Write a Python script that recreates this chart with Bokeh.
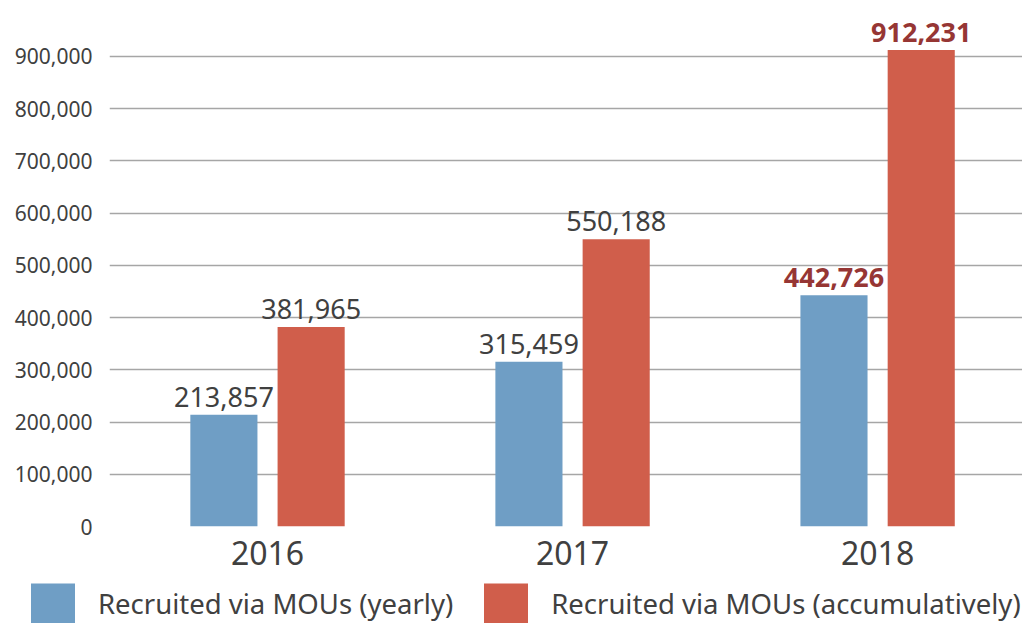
from bokeh.plotting import figure
from bokeh.models import (ColumnDataSource, FixedTicker, NumeralTickFormatter,
                          Range1d, Legend, LegendItem)
from bokeh.transform import dodge
from bokeh.core.properties import value
from bokeh.embed import file_html
from bokeh.resources import INLINE

years = ["2016", "2017", "2018"]
yearly = [213857, 315459, 442726]
accum = [381965, 550188, 912231]
series_names = ["Recruited via MOUs (yearly)", "Recruited via MOUs (accumulatively)"]
label_colors_yearly = ["#404040", "#404040", "#963634"]
label_colors_accum = ["#404040", "#404040", "#963634"]
label_styles = ["normal", "normal", "bold"]

BLUE = "#6f9ec5"
RED = "#d05e4b"
FONT = "Noto Sans"

idx = list(range(len(years)))
src = ColumnDataSource(dict(
    x=idx,
    yearly=yearly,
    accum=accum,
    yl=[f"{v:,}" for v in yearly],
    al=[f"{v:,}" for v in accum],
    yc=label_colors_yearly,
    ac=label_colors_accum,
    st=label_styles,
))

p = figure(width=1022, height=575, output_backend="svg", toolbar_location=None,
           x_range=Range1d(-0.518, 2.475), y_range=Range1d(0, 1007200),
           min_border_left=109, min_border_right=0, min_border_top=0,
           min_border_bottom=49)
p.outline_line_color = None
p.background_fill_color = "white"
p.border_fill_color = "white"

off = 0.143
w = 0.22
p.vbar(x=dodge("x", -off, range=p.x_range), top="yearly", width=w, source=src,
       fill_color=BLUE, line_color=None)
p.vbar(x=dodge("x", off, range=p.x_range), top="accum", width=w, source=src,
       fill_color=RED, line_color=None)

p.text(x=dodge("x", -off, range=p.x_range), y="yearly", text="yl", source=src,
       text_align="center", text_baseline="alphabetic", y_offset=-18,
       text_font=value(FONT), text_font_size="27px", text_color="yc",
       text_font_style="st")
p.text(x=dodge("x", off, range=p.x_range), y="accum", text="al", source=src,
       text_align="center", text_baseline="alphabetic", y_offset=-18,
       text_font=value(FONT), text_font_size="27px", text_color="ac",
       text_font_style="st")

# axes
p.xaxis.ticker = FixedTicker(ticks=idx)
p.xaxis.major_label_overrides = {i: y for i, y in zip(idx, years)}
p.xaxis.axis_line_color = None
p.xaxis.major_tick_line_color = None
p.xaxis.minor_tick_line_color = None
p.xaxis.major_label_text_font = FONT
p.xaxis.major_label_text_font_size = "32px"
p.xaxis.major_label_text_color = "#404040"
p.xaxis.major_label_standoff = 8

p.yaxis.ticker = FixedTicker(ticks=list(range(0, 1000000, 100000)))
p.yaxis.formatter = NumeralTickFormatter(format="0,0")
p.yaxis.axis_line_color = None
p.yaxis.major_tick_line_color = None
p.yaxis.minor_tick_line_color = None
p.yaxis.major_label_text_font = FONT
p.yaxis.major_label_text_font_size = "21px"
p.yaxis.major_label_text_color = "#404040"
p.yaxis.major_label_standoff = 11

p.xgrid.grid_line_color = None
p.ygrid.ticker = FixedTicker(ticks=list(range(0, 1000000, 100000)))
p.ygrid.grid_line_color = "#a6a6a6"
p.ygrid.grid_line_width = 1.5

# legend strip (separate root so its frame is not aligned to the chart's frame)
q = figure(width=1022, height=48, output_backend="svg", toolbar_location=None,
           x_range=Range1d(0, 1), y_range=Range1d(0, 1),
           x_axis_type=None, y_axis_type=None,
           min_border_left=0, min_border_right=0, min_border_top=0,
           min_border_bottom=0)
q.outline_line_color = None
q.xgrid.grid_line_color = None
q.ygrid.grid_line_color = None
q.background_fill_color = "white"
q.border_fill_color = "white"
# legend-only swatches, placed well outside the visible ranges
lr1 = q.vbar(x=[0.5], top=[-10], bottom=[-11], width=0.1, fill_color=BLUE, line_color=None)
lr2 = q.vbar(x=[0.5], top=[-10], bottom=[-11], width=0.1, fill_color=RED, line_color=None)
legend = Legend(items=[LegendItem(label=series_names[0], renderers=[lr1]),
                       LegendItem(label=series_names[1], renderers=[lr2])],
                orientation="horizontal", location=(25, -5),
                glyph_width=55, glyph_height=50, label_standoff=18, spacing=25,
                padding=0, margin=0, border_line_color=None,
                background_fill_alpha=0,
                label_text_font=FONT, label_text_font_size="27.5px",
                label_text_color="#404040")
q.add_layout(legend, "center")

open("out.html", "w").write(file_html([p, q], INLINE))
